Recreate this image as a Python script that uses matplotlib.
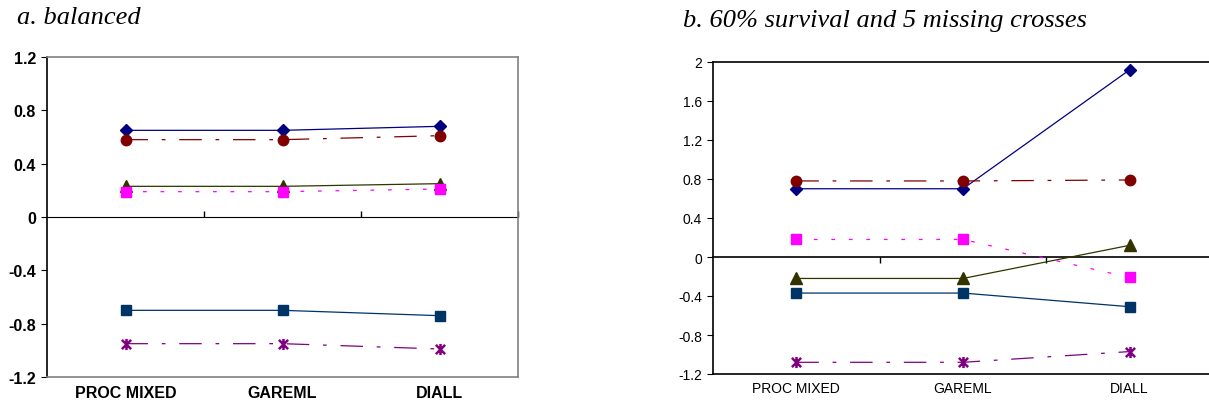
import matplotlib
matplotlib.use("Agg")
import matplotlib.pyplot as plt
from matplotlib.path import Path

categories = ["PROC MIXED", "GAREML", "DIALL"]

# panel a: balanced
a_diamond = [0.65, 0.65, 0.68]
a_circle = [0.58, 0.58, 0.61]
a_triangle = [0.23, 0.23, 0.25]
a_pink = [0.19, 0.19, 0.21]
a_square = [-0.70, -0.70, -0.74]
a_star = [-0.95, -0.95, -0.99]

# panel b: 60% survival and 5 missing crosses
b_diamond = [0.70, 0.70, 1.92]
b_circle = [0.78, 0.78, 0.79]
b_pink = [0.18, 0.18, -0.21]
b_triangle = [-0.22, -0.22, 0.12]
b_square = [-0.37, -0.37, -0.51]
b_star = [-1.08, -1.08, -0.97]

# excel style star: an x with a vertical bar through it
star = Path([(-1, -1), (1, 1), (-1, 1), (1, -1), (0, -1.2), (0, 1.2)],
            [Path.MOVETO, Path.LINETO, Path.MOVETO, Path.LINETO, Path.MOVETO, Path.LINETO])

styles = [
    dict(color="#000080", marker="D", ms=6, ls="-"),
    dict(color="#800000", marker="o", ms=7.5, ls=(0, (18, 11, 3, 11))),
    dict(color="#333300", marker="^", ms=8, ls="-"),
    dict(color="#FF00FF", marker="s", ms=7.5, ls=(0, (3, 11))),
    dict(color="#003366", marker="s", ms=7.5, ls="-"),
    dict(color="#800080", marker=star, ms=8, mew=1.8, ls=(0, (18, 11, 3, 11))),
]

xpos = [0.5, 1.5, 2.5]


def draw_panel(ax, series, ylim, yticks, ylabels, frame_col, tickfont, xpad):
    for vals, st in zip(series, styles):
        st = dict(st)
        col = st.pop("color")
        ax.plot(xpos, vals, color=col, mec=col, mfc=col, lw=0.9, **st)
    ax.set_xlim(0, 3)
    ax.set_ylim(*ylim)
    ax.set_yticks(yticks)
    ax.set_yticklabels(ylabels, **tickfont)
    ax.set_xticks(xpos)
    ax.set_xticklabels(categories, **tickfont)
    ax.tick_params(axis="x", length=0, pad=xpad)
    ax.tick_params(axis="y", length=4, direction="out", pad=4)
    for s in ["top", "right", "bottom"]:
        ax.spines[s].set_color(frame_col)
        ax.spines[s].set_linewidth(1.2)
    ax.spines["left"].set_color("black")
    ax.spines["left"].set_linewidth(1.2)
    # zero line with category separators
    frac = -ylim[0] / (ylim[1] - ylim[0])
    sec = ax.secondary_xaxis(frac)
    sec.set_xticks([1, 2, 3])
    sec.set_xticklabels([])
    sec.tick_params(length=4, direction="out", color="black", width=1)
    sec.spines["bottom"].set_color(frame_col)
    sec.spines["bottom"].set_linewidth(1.2)


fig = plt.figure(figsize=(12.09, 4.06), dpi=100)

ax1 = fig.add_axes([47 / 1209, 28 / 406, 471 / 1209, 320 / 406])
draw_panel(ax1, [a_diamond, a_circle, a_triangle, a_pink, a_square, a_star],
           (-1.2, 1.2), [1.2, 0.8, 0.4, 0, -0.4, -0.8, -1.2],
           ["1.2", "0.8", "0.4", "0", "-0.4", "-0.8", "-1.2"], "#808080",
           dict(fontsize=11.5, fontweight="bold", family="Liberation Sans"), 6)
fig.text(17 / 1209, 1 - 18 / 406, "a. balanced", fontsize=19, style="italic",
         family="Liberation Serif", va="center", ha="left")

ax2 = fig.add_axes([713 / 1209, 31 / 406, 500 / 1209, 312 / 406])
draw_panel(ax2, [b_diamond, b_circle, b_triangle, b_pink, b_square, b_star],
           (-1.2, 2.0), [2, 1.6, 1.2, 0.8, 0.4, 0, -0.4, -0.8, -1.2],
           ["2", "1.6", "1.2", "0.8", "0.4", "0", "-0.4", "-0.8", "-1.2"], "black",
           dict(fontsize=10, family="Liberation Sans"), 5)
fig.text(683 / 1209, 1 - 21 / 406, "b. 60% survival and 5 missing crosses",
         fontsize=19, style="italic", family="Liberation Serif", va="center", ha="left")

fig.savefig("out.png", dpi=100)
